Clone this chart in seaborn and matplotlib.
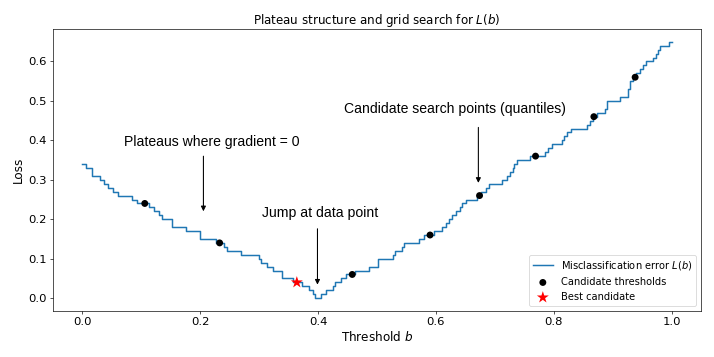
import seaborn as sns
import matplotlib.pyplot as plt

# step function L(b): threshold where each plateau starts, and its loss
b_steps = [0.000, 0.007, 0.017, 0.030, 0.037, 0.044, 0.052, 0.060, 0.085, 0.093,
           0.113, 0.122, 0.130, 0.135, 0.152, 0.176, 0.200, 0.227, 0.240, 0.245,
           0.270, 0.300, 0.304, 0.313, 0.324, 0.338, 0.358, 0.372, 0.385, 0.391,
           0.394, 0.405, 0.414, 0.425, 0.428, 0.439, 0.448, 0.462, 0.487, 0.501,
           0.527, 0.531, 0.543, 0.546, 0.572, 0.580, 0.597, 0.611, 0.617, 0.622,
           0.628, 0.634, 0.640, 0.645, 0.651, 0.670, 0.676, 0.685, 0.690, 0.712,
           0.721, 0.726, 0.730, 0.733, 0.738, 0.760, 0.785, 0.790, 0.797, 0.814,
           0.817, 0.822, 0.830, 0.856, 0.862, 0.866, 0.874, 0.887, 0.890, 0.912,
           0.926, 0.930, 0.935, 0.940, 0.946, 0.952, 0.957, 0.968, 0.973, 0.977,
           0.980, 0.995, 1.000]
loss_steps = [0.34, 0.33, 0.31, 0.30, 0.29, 0.28, 0.27, 0.26, 0.25, 0.24,
              0.23, 0.22, 0.21, 0.20, 0.18, 0.17, 0.15, 0.14, 0.13, 0.12,
              0.11, 0.10, 0.09, 0.08, 0.07, 0.05, 0.04, 0.03, 0.02, 0.01,
              0.00, 0.01, 0.02, 0.03, 0.04, 0.05, 0.06, 0.07, 0.08, 0.10,
              0.11, 0.12, 0.13, 0.14, 0.15, 0.16, 0.17, 0.18, 0.19, 0.20,
              0.21, 0.22, 0.23, 0.24, 0.25, 0.26, 0.27, 0.28, 0.29, 0.30,
              0.31, 0.32, 0.33, 0.34, 0.35, 0.36, 0.37, 0.38, 0.39, 0.40,
              0.41, 0.42, 0.43, 0.44, 0.45, 0.46, 0.47, 0.48, 0.50, 0.51,
              0.53, 0.55, 0.56, 0.57, 0.58, 0.59, 0.60, 0.61, 0.62, 0.63,
              0.64, 0.65, 0.65]

# candidate thresholds (quantiles) and their loss
cand_b = [0.106, 0.233, 0.458, 0.590, 0.674, 0.769, 0.868, 0.938]
cand_loss = [0.24, 0.14, 0.06, 0.16, 0.26, 0.36, 0.46, 0.56]

best_b = [0.364]
best_loss = [0.04]

fig, ax = plt.subplots(figsize=(12, 6), dpi=59.5)

sns.lineplot(x=b_steps, y=loss_steps, drawstyle='steps-post', color='#1f77b4',
             linewidth=1.8, label='Misclassification error $L(b)$', ax=ax)
sns.scatterplot(x=cand_b, y=cand_loss, color='black', s=70, edgecolor='none',
                label='Candidate thresholds', zorder=3, ax=ax)
sns.scatterplot(x=best_b, y=best_loss, color='red', marker='*', s=230,
                edgecolor='none', label='Best candidate', zorder=4, ax=ax)

# annotations
note_font = dict(family='Liberation Sans', fontsize=17)
arrow = dict(arrowstyle='-|>', color='black', lw=1.3, mutation_scale=12)

ax.text(0.22, 0.395, 'Plateaus where gradient = 0', ha='center', va='center', **note_font)
ax.annotate('', xy=(0.2055, 0.216), xytext=(0.2055, 0.364), arrowprops=arrow)

ax.text(0.403, 0.217, 'Jump at data point', ha='center', va='center', **note_font)
ax.annotate('', xy=(0.399, 0.030), xytext=(0.399, 0.180), arrowprops=arrow)

ax.text(0.633, 0.480, 'Candidate search points (quantiles)', ha='center', va='center', **note_font)
ax.annotate('', xy=(0.672, 0.288), xytext=(0.672, 0.437), arrowprops=arrow)

ax.set_title('Plateau structure and grid search for $L(b)$', fontsize=14.4)
ax.set_xlabel('Threshold $b$', fontsize=14.5)
ax.set_ylabel('Loss', fontsize=14.5)
ax.tick_params(labelsize=14)
ax.legend(loc='lower right', fontsize=12)

plt.subplots_adjust(left=0.074, right=0.982, top=0.919, bottom=0.129)
plt.savefig('out.png', dpi=59.5)
plt.close()
